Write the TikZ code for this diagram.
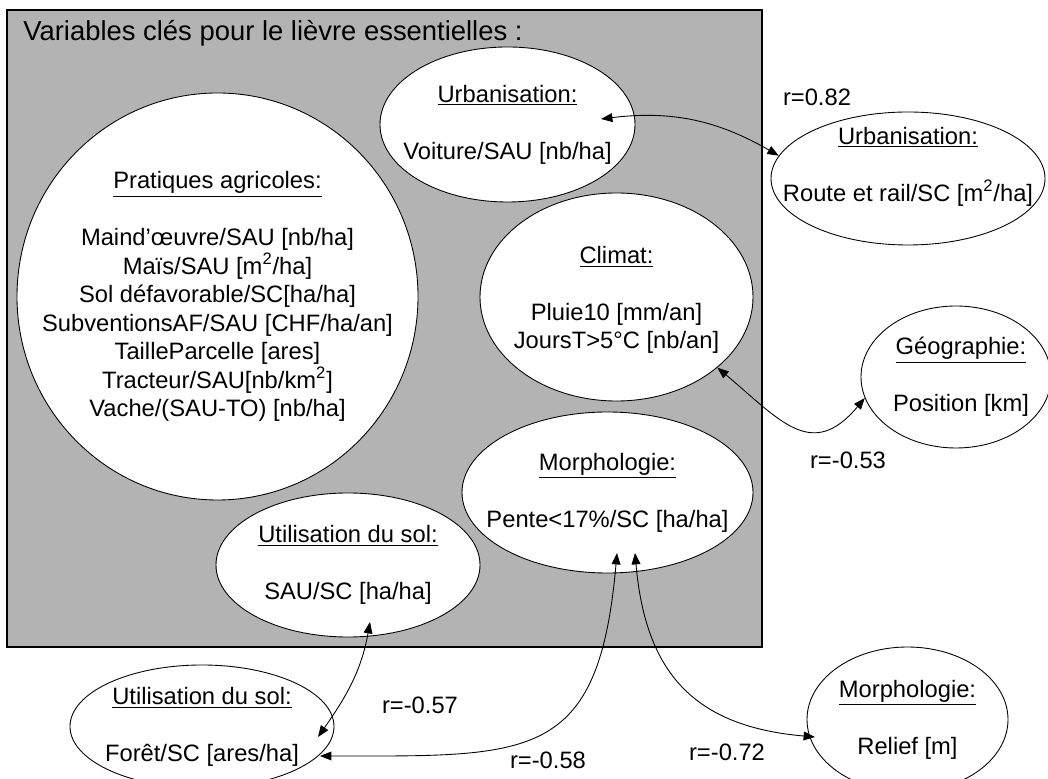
\documentclass[tikz,border=0pt]{standalone}
\usepackage{fontspec}
\setmainfont{Liberation Sans}
\usepackage{tikz}
\usetikzlibrary{arrows.meta, calc, positioning, shapes.geometric}
\definecolor{boxgray}{RGB}{179,179,179}
\newcommand{\ttl}[1]{\underline{#1}\\[16.2pt]}

\begin{document}
\begin{tikzpicture}[
    ell/.style={ellipse, draw, fill=white, line width=0.5pt, inner sep=0pt},
    txt/.style={align=center, font=\fontsize{13.5}{16.2}\selectfont},
    rlab/.style={font=\fontsize{13.5}{16.2}\selectfont},
    corr/.style={{Triangle[length=6.5pt,width=5pt]}-{Triangle[length=6.5pt,width=5pt]}, line width=0.5pt}
]
    \useasboundingbox (0,0) rectangle (20.96,15.56);

    % cadre gris
    \draw[fill=boxgray, line width=0.8pt] (0.14,2.62) rectangle (15.24,15.36);
    \node[anchor=west, inner sep=0pt, font=\fontsize{15.6}{18}\selectfont] (titre) at (0.46,14.90) {Variables clés pour le lièvre essentielles :};

    % ellipses dans le cadre
    \node[ell, minimum width=8.02cm, minimum height=8.14cm] (prat) at (4.35,9.63) {};
    \node[ell, minimum width=5.10cm, minimum height=3.10cm] (urbin) at (10.15,13.07) {};
    \node[ell, minimum width=5.46cm, minimum height=4.16cm] (clim) at (12.33,9.62) {};
    \node[ell, minimum width=5.82cm, minimum height=3.22cm] (morphin) at (12.15,5.71) {};
    \node[ell, minimum width=5.28cm, minimum height=2.88cm] (utilin) at (6.96,4.26) {};

    % ellipses hors du cadre
    \node[ell, minimum width=5.48cm, minimum height=2.66cm] (urbout) at (18.16,11.99) {};
    \node[ell, minimum width=3.80cm, minimum height=2.84cm] (geo) at (19.12,8.02) {};
    \node[ell, minimum width=5.28cm, minimum height=2.46cm] (foret) at (4.04,1.03) {};
    \node[ell, minimum width=4.02cm, minimum height=2.90cm] (relief) at (18.15,1.17) {};

    % textes
    \node[txt] (prat-t) at (prat) {\ttl{Pratiques agricoles:}
        Maind’œuvre/SAU [nb/ha]\\
        Maïs/SAU [m\textsuperscript{2}/ha]\\
        Sol défavorable/SC[ha/ha]\\
        SubventionsAF/SAU [CHF/ha/an]\\
        TailleParcelle [ares]\\
        Tracteur/SAU[nb/km\textsuperscript{2}]\\
        Vache/(SAU-TO) [nb/ha]};
    \node[txt] (urbin-t) at (urbin) {\ttl{Urbanisation:} Voiture/SAU [nb/ha]};
    \node[txt] (clim-t) at ([yshift=-0.06cm]clim.center) {\ttl{Climat:} Pluie10 [mm/an]\\ JoursT>5°C [nb/an]};
    \node[txt] (morphin-t) at (morphin) {\ttl{Morphologie:} Pente<17\%/SC [ha/ha]};
    \node[txt] (utilin-t) at (utilin) {\ttl{Utilisation du sol:} SAU/SC [ha/ha]};
    \node[txt] (urbout-t) at ([yshift=0.24cm]urbout.center) {\ttl{Urbanisation:} Route et rail/SC [m\textsuperscript{2}/ha]};
    \node[txt] (geo-t) at ([xshift=0.1cm]geo.center) {\ttl{Géographie:} Position [km]};
    \node[txt] (foret-t) at (foret) {\ttl{Utilisation du sol:} Forêt/SC [ares/ha]};
    \node[txt] (relief-t) at (relief) {\ttl{Morphologie:} Relief [m]};

    % correlations
    \draw[corr] ([shift={(1.87,0.11)}]urbin.center) to[out=7, in=150] (urbout.170);
    \node[rlab] (r-urb) at (16.34,13.62) {r=0.82};

    \draw[corr] (clim.-35) to[out=-40, in=230, looseness=1.4] (geo.193);
    \node[rlab] (r-geo) at (16.96,6.36) {r=-0.53};

    \draw[corr] ([shift={(0.44,-1.14)}]utilin.center) to[out=-100, in=55] ([shift={(2.32,-0.21)}]foret.center);
    \node[rlab] (r-util) at (8.40,1.46) {r=-0.57};

    \draw[corr] ([shift={(0.19,-1.21)}]morphin.center) to[out=-95, in=0, looseness=1.5] ([shift={(2.36,-0.59)}]foret.center);
    \node[rlab] (r-foret) at (10.96,0.36) {r=-0.58};

    \draw[corr] ([shift={(0.55,-1.21)}]morphin.center) to[out=-85, in=175, looseness=1.2] ([shift={(-1.85,-0.35)}]relief.center);
    \node[rlab] (r-relief) at (14.54,0.52) {r=-0.72};
\end{tikzpicture}
\end{document}
